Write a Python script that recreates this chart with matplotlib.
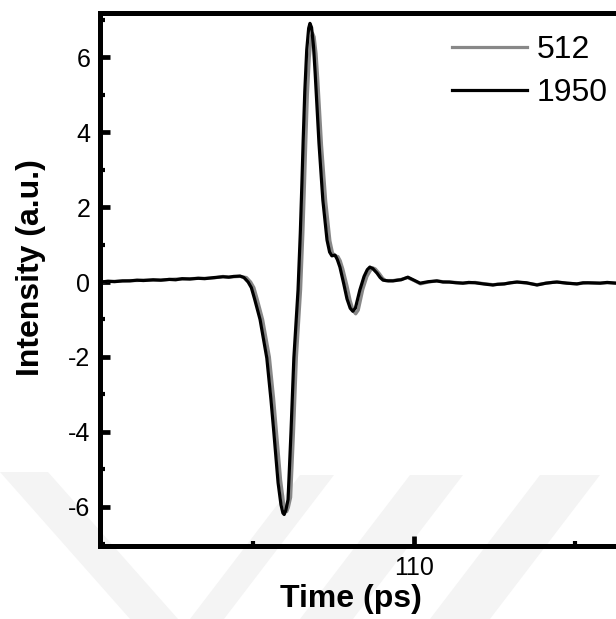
import matplotlib
matplotlib.use("Agg")
import matplotlib.pyplot as plt
from matplotlib.patches import Polygon
from matplotlib.ticker import MultipleLocator

plt.rcParams['font.family'] = ['Liberation Sans', 'DejaVu Sans']
plt.rcParams['axes.unicode_minus'] = False

# values
time_1950 = [100.25, 100.5, 100.7, 100.95, 101.18, 101.4, 101.6, 101.9, 102.14, 102.4,
             102.6, 102.8, 103.04, 103.3, 103.5, 103.8, 104.07, 104.25, 104.4, 104.6,
             104.72, 104.85, 104.95, 105.05, 105.22, 105.43, 105.56, 105.65, 105.78, 105.87,
             105.93, 105.97, 106.02, 106.09, 106.18, 106.27, 106.4, 106.47, 106.52, 106.56,
             106.61, 106.67, 106.73, 106.77, 106.82, 106.88, 106.93, 107.0, 107.05, 107.17,
             107.3, 107.38, 107.45, 107.55, 107.62, 107.7, 107.82, 107.92, 108.02, 108.1,
             108.18, 108.32, 108.45, 108.55, 108.63, 108.72, 108.85, 108.95, 109.04, 109.2,
             109.35, 109.5, 109.6, 109.81, 110.0, 110.19, 110.45, 110.71, 110.9, 111.1,
             111.3, 111.52, 111.7, 111.9, 112.15, 112.45, 112.6, 112.8, 113.0, 113.2,
             113.5, 113.82, 114.1, 114.3, 114.44, 114.75, 115.06, 115.25, 115.4, 115.78,
             116.0, 116.27, 117.0]
int_1950 = [0.0, 0.02, 0.01, 0.03, 0.03, 0.05, 0.04, 0.06, 0.05, 0.07,
            0.06, 0.09, 0.08, 0.1, 0.09, 0.12, 0.14, 0.13, 0.15, 0.16,
            0.12, 0.0, -0.15, -0.45, -1.0, -2.03, -3.15, -4.03, -5.36, -5.95,
            -6.17, -6.21, -6.1, -5.81, -4.03, -2.03, -0.21, 1.3, 2.64, 3.8,
            5.1, 6.2, 6.78, 6.91, 6.8, 6.3, 5.6, 4.5, 3.71, 2.19,
            1.12, 0.8, 0.7, 0.72, 0.6, 0.4, -0.05, -0.45, -0.7, -0.78,
            -0.7, -0.21, 0.15, 0.33, 0.4, 0.36, 0.24, 0.12, 0.05, 0.03,
            0.03, 0.05, 0.06, 0.13, 0.05, -0.03, 0.01, 0.03, 0.0, 0.0,
            -0.02, -0.03, -0.01, -0.02, -0.05, -0.08, -0.06, -0.05, -0.02, 0.0,
            -0.02, -0.08, -0.03, -0.01, 0.0, -0.03, -0.05, -0.02, -0.02, -0.03,
            -0.01, -0.03, -0.02]

time_512 = [100.25, 100.5, 100.7, 100.95, 101.18, 101.4, 101.6, 101.9, 102.14, 102.4,
            102.6, 102.8, 103.04, 103.3, 103.5, 103.8, 104.07, 104.25, 104.4, 104.6,
            104.8, 104.93, 105.03, 105.13, 105.3, 105.51, 105.64, 105.73, 105.86, 105.95,
            106.01, 106.05, 106.1, 106.17, 106.26, 106.35, 106.48, 106.55, 106.6, 106.64,
            106.69, 106.75, 106.81, 106.85, 106.9, 106.96, 107.01, 107.08, 107.13, 107.26,
            107.39, 107.47, 107.54, 107.64, 107.71, 107.79, 107.92, 108.02, 108.12, 108.19,
            108.27, 108.41, 108.54, 108.64, 108.72, 108.8, 108.93, 109.03, 109.12, 109.2,
            109.35, 109.5, 109.6, 109.8, 110.0, 110.2, 110.45, 110.71, 110.9, 111.1,
            111.3, 111.52, 111.7, 111.9, 112.15, 112.45, 112.6, 112.8, 113.0, 113.2,
            113.5, 113.82, 114.1, 114.3, 114.44, 114.75, 115.06, 115.25, 115.4, 115.78,
            116.0, 116.27, 117.0]
int_512 = [0.0, 0.02, 0.02, 0.03, 0.04, 0.04, 0.05, 0.05, 0.05, 0.07,
           0.08, 0.08, 0.09, 0.1, 0.1, 0.11, 0.15, 0.13, 0.14, 0.15,
           0.12, 0.0, -0.15, -0.45, -1.0, -2.0, -3.1, -4.0, -5.3, -5.9,
           -6.1, -6.13, -6.02, -5.75, -4.0, -2.0, -0.2, 1.3, 2.6, 3.7,
           5.0, 6.0, 6.55, 6.65, 6.55, 6.1, 5.45, 4.4, 3.65, 2.15,
           1.1, 0.78, 0.7, 0.68, 0.57, 0.35, -0.1, -0.5, -0.78, -0.85,
           -0.75, -0.2, 0.15, 0.3, 0.38, 0.35, 0.22, 0.1, 0.04, 0.04,
           0.04, 0.06, 0.07, 0.12, 0.04, -0.05, 0.0, 0.03, 0.01, 0.0,
           -0.01, -0.03, -0.02, -0.01, -0.04, -0.07, -0.06, -0.05, -0.02, 0.0,
           -0.03, -0.07, -0.03, -0.01, 0.0, -0.03, -0.05, -0.03, -0.02, -0.03,
           -0.02, -0.03, -0.02]

labels = ['512', '1950']

W, H = 616, 619
fig = plt.figure(figsize=(W / 100, H / 100), dpi=100)

# faint background watermark (pixel coords, y from top)
marks = [
    [(0, 472), (48, 472), (178, 619), (130, 619)],
    [(300, 475), (334, 475), (224, 619), (190, 619)],
    [(410, 475), (463, 475), (353, 619), (300, 619)],
    [(540, 475), (600, 475), (490, 619), (430, 619)],
]
for m in marks:
    pts = [(x / W, 1 - y / H) for x, y in m]
    fig.patches.append(Polygon(pts, closed=True, transform=fig.transFigure,
                               facecolor='#f4f4f4', edgecolor='none', zorder=-5))

ax = fig.add_axes([0.1623, 0.118, 0.8757, 0.8618])
ax.set_facecolor('none')
ax.set_zorder(2)

ax.plot(time_512, int_512, color='#888888', linewidth=2.3, label=labels[0])
ax.plot(time_1950, int_1950, color='black', linewidth=2.3, label=labels[1])

ax.set_xlim(100.25, 117.0)
ax.set_ylim(-7.05, 7.2)

ax.xaxis.set_major_locator(MultipleLocator(10))
ax.xaxis.set_minor_locator(MultipleLocator(5))
ax.yaxis.set_major_locator(MultipleLocator(2))
ax.yaxis.set_minor_locator(MultipleLocator(1))

for s in ax.spines.values():
    s.set_linewidth(3.6)

ax.tick_params(which='both', direction='in', top=False, right=False)
ax.tick_params(which='major', length=7, width=3.4, labelsize=18, pad=7)
ax.tick_params(which='minor', length=3.5, width=3.0)

ax.set_xlabel('Time (ps)', fontsize=23, fontweight='bold')
ax.set_ylabel('Intensity (a.u.)', fontsize=23, fontweight='bold')
ax.xaxis.set_label_coords(0.465, -0.072)
ax.yaxis.set_label_coords(-0.10, 0.521)

ax.legend(loc='upper left', bbox_to_anchor=(0.652, 0.958), frameon=False,
          fontsize=23, handlelength=2.35, handletextpad=0.3, labelspacing=0.42,
          borderaxespad=0, borderpad=0)

fig.savefig('out.png', dpi=100)
